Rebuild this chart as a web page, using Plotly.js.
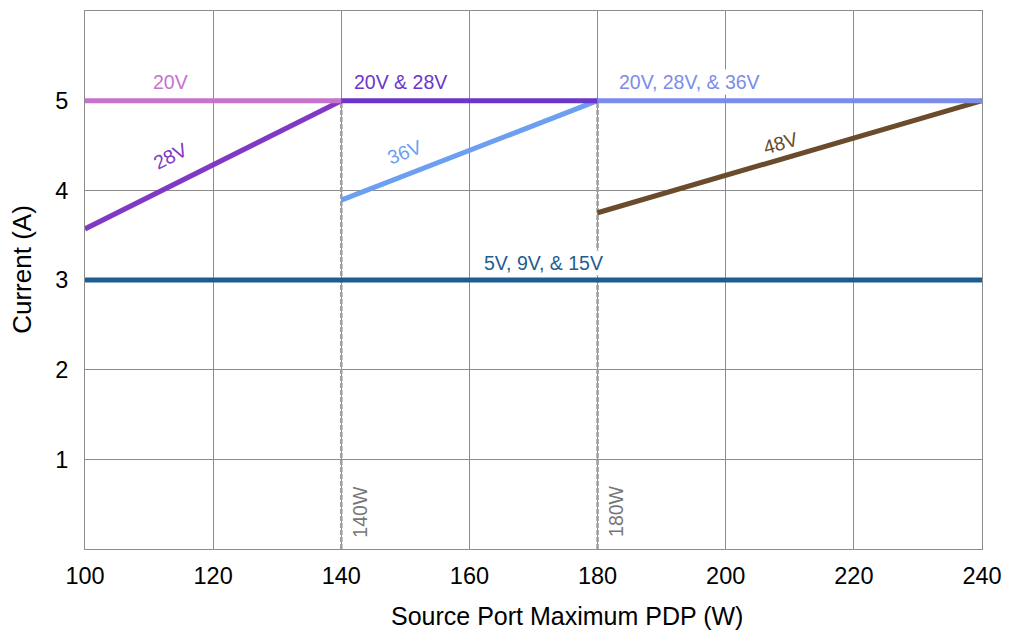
<!DOCTYPE html>
<html>
<head>
<meta charset="utf-8">
<script src="https://cdn.plot.ly/plotly-3.0.1.min.js"></script>
<style>
  html, body { margin: 0; padding: 0; background: #fff; }
  #chart { width: 1016px; height: 632px; }
</style>
</head>
<body>
<div id="chart"></div>
<script>
// source power (W) -> max current (A) per voltage
var lowX = [100, 240];
var lowY = [3, 3];

var v20X = [100, 140];
var v20Y = [5, 5];

var v28X = [100, 140];
var v28Y = [3.57, 5];

var v20v28X = [140, 180];
var v20v28Y = [5, 5];

var v36X = [140, 180];
var v36Y = [3.89, 5];

var v20v28v36X = [180, 240];
var v20v28v36Y = [5, 5];

var v48X = [180, 240];
var v48Y = [3.75, 5];

var breakX = [140, 180];
var breakTop = 5;
var breakLabels = ['140W', '180W'];

var yTicks = [1, 2, 3, 4, 5];
var xTicks = [100, 120, 140, 160, 180, 200, 220, 240];

function seg(x, y, color) {
  return {
    x: x, y: y, type: 'scatter', mode: 'lines',
    line: { color: color, width: 5 },
    hoverinfo: 'skip', showlegend: false
  };
}

var data = [];
breakX.forEach(function (bx) {
  data.push({
    x: [bx, bx], y: [0, breakTop], type: 'scatter', mode: 'lines',
    line: { color: '#a0a0a0', width: 2.6, dash: '5px,2px' },
    hoverinfo: 'skip', showlegend: false
  });
});
data.push(seg(lowX, lowY, '#1f5c92'));
data.push(seg(v28X, v28Y, '#8138c2'));
data.push(seg(v20X, v20Y, '#c772cc'));
data.push(seg(v36X, v36Y, '#6d9ff0'));
data.push(seg(v48X, v48Y, '#6a4b2c'));
data.push(seg(v20v28X, v20v28Y, '#6b36c9'));
data.push(seg(v20v28v36X, v20v28v36Y, '#7b8de8'));

var fam = 'Liberation Sans, Arial, sans-serif';
function lab(text, x, y, color, angle) {
  return {
    text: text, x: x, y: y, xref: 'x', yref: 'y', showarrow: false,
    textangle: angle || 0, bgcolor: '#ffffff', borderpad: 1,
    font: { family: fam, size: 19.5, color: color }
  };
}

var annotations = [
  lab('20V', 113.3, 5.21, '#c772cc'),
  lab('20V & 28V', 149.2, 5.21, '#6b36c9'),
  lab('20V, 28V, & 36V', 194.4, 5.21, '#7b8de8'),
  lab('28V', 113.3, 4.38, '#8138c2', -27),
  lab('36V', 149.9, 4.43, '#6d9ff0', -21),
  lab('48V', 208.5, 4.53, '#6a4b2c', -16),
  lab('5V, 9V, & 15V', 171.5, 3.19, '#1f5c92')
];
breakX.forEach(function (bx, i) {
  annotations.push({
    text: breakLabels[i], x: bx, y: 0.42, xref: 'x', yref: 'y',
    xanchor: 'left', xshift: 6, showarrow: false, textangle: -90,
    font: { family: fam, size: 19.5, color: '#777777' }
  });
});

// axis titles placed as in the reference (slightly off-centre)
annotations.push({
  text: 'Source Port Maximum PDP (W)', xref: 'paper', yref: 'paper',
  x: 0.537, y: 0, yshift: -67, showarrow: false,
  xanchor: 'center', yanchor: 'middle',
  font: { family: fam, size: 25, color: '#000' }
});
annotations.push({
  text: 'Current (A)', xref: 'paper', yref: 'paper',
  x: 0, xshift: -63, y: 0.519, showarrow: false, textangle: -90,
  xanchor: 'center', yanchor: 'middle',
  font: { family: fam, size: 26, color: '#000' }
});

var tickFont = { family: fam, size: 23.5, color: '#000' };

var layout = {
  width: 1016, height: 632,
  margin: { l: 85, r: 34, t: 11, b: 83 },
  paper_bgcolor: '#fff', plot_bgcolor: '#fff',
  font: { family: fam },
  xaxis: {
    range: [100, 240], tickvals: xTicks, ticks: '',
    showgrid: true, gridcolor: '#8c8c8c', gridwidth: 1,
    showline: true, linecolor: '#8c8c8c', linewidth: 1, mirror: true,
    zeroline: false, tickfont: tickFont, ticklabelstandoff: 6
  },
  yaxis: {
    range: [0, 6], tickvals: yTicks, ticks: '',
    showgrid: true, gridcolor: '#8c8c8c', gridwidth: 1,
    showline: true, linecolor: '#8c8c8c', linewidth: 1, mirror: true,
    zeroline: false, tickfont: tickFont, ticklabelstandoff: 11
  },
  annotations: annotations,
  showlegend: false
};

Plotly.newPlot('chart', data, layout, { displayModeBar: false, staticPlot: true });
</script>
</body>
</html>
